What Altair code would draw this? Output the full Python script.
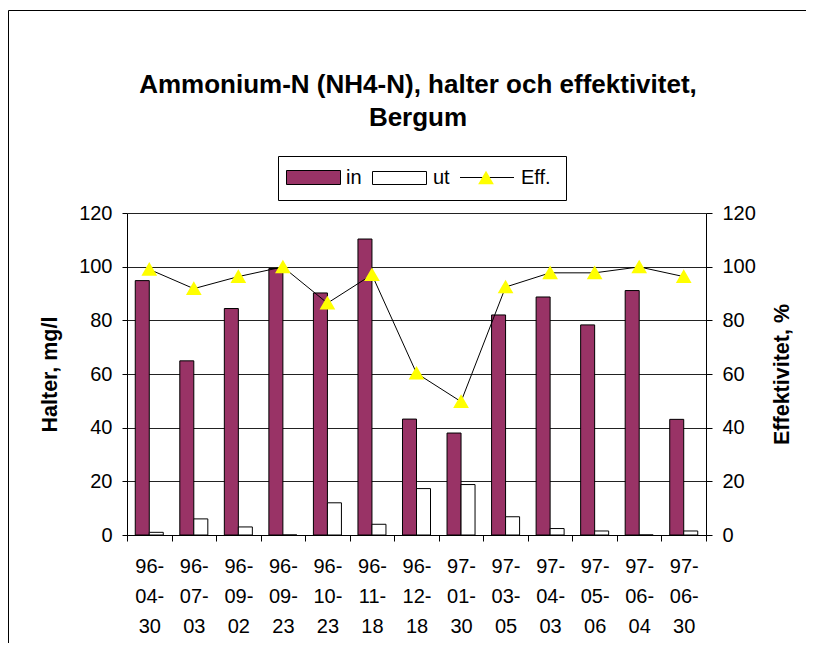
import altair as alt
import pandas as pd

# ---- data ----
dates = ["96-04-30", "96-07-03", "96-09-02", "96-09-23", "96-10-23", "96-11-18",
         "96-12-18", "97-01-30", "97-03-05", "97-04-03", "97-05-06", "97-06-04", "97-06-30"]
halt_in = [94.8, 64.9, 84.4, 99.3, 90.2, 110.3, 43.2, 38.0, 82.0, 88.7, 78.3, 91.1, 43.1]
halt_ut = [1.0, 6.0, 3.0, 0.0, 12.0, 4.0, 17.3, 18.8, 6.8, 2.4, 1.5, 0.0, 1.5]
eff = [99.0, 91.8, 96.3, 99.9, 86.4, 97.0, 60.3, 49.7, 92.4, 97.7, 97.7, 99.9, 96.3]
series = ["in", "ut"]
y_ticks = [0, 20, 40, 60, 80, 100, 120]

title_lines = ["Ammonium-N (NH4-N), halter och effektivitet,", "Bergum"]

FONT = "Liberation Sans"
PURPLE = "#993366"
YELLOW = "#ffff00"

bars_df = pd.DataFrame(
    [{"date": d, "series": "in", "value": v} for d, v in zip(dates, halt_in)]
    + [{"date": d, "series": "ut", "value": v} for d, v in zip(dates, halt_ut)]
)
eff_df = pd.DataFrame({"date": dates, "eff": eff})
one = pd.DataFrame({"k": [0]})

W, H = 579, 322

x_enc = alt.X(
    "date:N",
    sort=dates,
    scale=alt.Scale(domain=dates, paddingInner=0, paddingOuter=0),
    axis=alt.Axis(
        title=None,
        labelAngle=0,
        labelFont=FONT,
        labelFontSize=20,
        labelColor="black",
        labelLineHeight=30,
        labelPadding=15,
        labelExpr="[substring(datum.label,0,3), substring(datum.label,3,6), substring(datum.label,6,8)]",
        tickBand="extent",
        tickSize=6,
        tickColor="black",
        domainColor="black",
        grid=False,
    ),
)

bars = alt.Chart(bars_df).mark_bar(stroke="black", strokeWidth=1).encode(
    x=x_enc,
    xOffset=alt.XOffset("series:N", sort=series,
                        scale=alt.Scale(domain=series, paddingInner=0, paddingOuter=0.59)),
    y=alt.Y(
        "value:Q",
        scale=alt.Scale(domain=[0, 120]),
        axis=alt.Axis(
            orient="left",
            values=y_ticks,
            title="Halter, mg/l",
            titleFont=FONT,
            titleFontSize=21.5,
            titleFontWeight="bold",
            titleColor="black",
            titleX=-77,
            titleY=H / 2,
            titleAngle=-90,
            titleBaseline="middle",
            titleAlign="center",
            labelFont=FONT,
            labelFontSize=20,
            labelColor="black",
            labelPadding=10,
            tickSize=5,
            tickColor="black",
            domainColor="black",
            grid=True,
            gridColor="#222222",
            gridWidth=1,
        ),
    ),
    fill=alt.Fill("series:N", scale=alt.Scale(domain=series, range=[PURPLE, "#ffffff"]), legend=None),
)

eff_y = alt.Y(
    "eff:Q",
    scale=alt.Scale(domain=[0, 120]),
    axis=alt.Axis(
        orient="right",
        values=y_ticks,
        title="Effektivitet, %",
        titleFont=FONT,
        titleFontSize=21.5,
        titleFontWeight="bold",
        titleColor="black",
        titleX=76,
        titleY=H / 2,
        titleAngle=-90,
        titleBaseline="middle",
        titleAlign="center",
        labelFont=FONT,
        labelFontSize=20,
        labelColor="black",
        labelPadding=10,
        tickSize=6,
        tickColor="black",
        domainColor="black",
        grid=False,
    ),
)

eff_line = alt.Chart(eff_df).mark_line(color="black", strokeWidth=1).encode(x=x_enc, y=eff_y)
eff_pts = alt.Chart(eff_df).mark_point(
    shape="triangle-up", filled=True, fill=YELLOW, stroke=YELLOW, size=150, opacity=1
).encode(x=x_enc, y=eff_y)
eff_layer = alt.layer(eff_line, eff_pts)

# ---- decorations: outer frame, title, legend ----
frame_left = alt.Chart(one).mark_rule(color="black", strokeWidth=1).encode(
    x=alt.value(-118.5), x2=alt.value(-118.5), y=alt.value(-202.5), y2=alt.value(430))
frame_top = alt.Chart(one).mark_rule(color="black", strokeWidth=1).encode(
    y=alt.value(-202.5), y2=alt.value(-202.5), x=alt.value(-118.5), x2=alt.value(690))

title1 = alt.Chart(one).mark_text(
    font=FONT, fontSize=26, fontWeight="bold", color="black", align="center", baseline="middle"
).encode(x=alt.value(291), y=alt.value(-128), text=alt.value(title_lines[0]))
title2 = alt.Chart(one).mark_text(
    font=FONT, fontSize=26, fontWeight="bold", color="black", align="center", baseline="middle"
).encode(x=alt.value(291), y=alt.value(-95), text=alt.value(title_lines[1]))

leg_box = alt.Chart(one).mark_rect(fill="white", stroke="black", strokeWidth=1).encode(
    x=alt.value(151.5), x2=alt.value(439.5), y=alt.value(-56.5), y2=alt.value(-12.5))
leg_in = alt.Chart(one).mark_rect(fill=PURPLE, stroke="black", strokeWidth=1).encode(
    x=alt.value(159.5), x2=alt.value(213.5), y=alt.value(-42.5), y2=alt.value(-28.5))
leg_ut = alt.Chart(one).mark_rect(fill="white", stroke="black", strokeWidth=1).encode(
    x=alt.value(245.5), x2=alt.value(299.5), y=alt.value(-41.5), y2=alt.value(-28.5))
leg_line = alt.Chart(one).mark_rule(color="black", strokeWidth=1).encode(
    x=alt.value(333), x2=alt.value(387), y=alt.value(-35.5), y2=alt.value(-35.5))
leg_tri = alt.Chart(one).mark_point(
    shape="triangle-up", filled=True, fill=YELLOW, stroke=YELLOW, size=150, opacity=1
).encode(x=alt.value(359), y=alt.value(-35))
leg_txt = [
    alt.Chart(one).mark_text(font=FONT, fontSize=20, color="black", align="left", baseline="middle")
    .encode(x=alt.value(xp), y=alt.value(-35), text=alt.value(t))
    for xp, t in [(219, "in"), (306, "ut"), (394, "Eff.")]
]

chart = alt.layer(
    bars, eff_layer,
    frame_left, frame_top, title1, title2,
    leg_box, leg_in, leg_ut, leg_line, leg_tri, *leg_txt,
).resolve_scale(y="independent").properties(
    width=W, height=H,
    autosize=alt.AutoSizeParams(type="none"),
    padding={"left": 119, "top": 205, "right": 100, "bottom": 110},
    background="white",
).configure_view(stroke=None)

chart.save("out.html", embed_options={"renderer": "svg", "actions": False})
